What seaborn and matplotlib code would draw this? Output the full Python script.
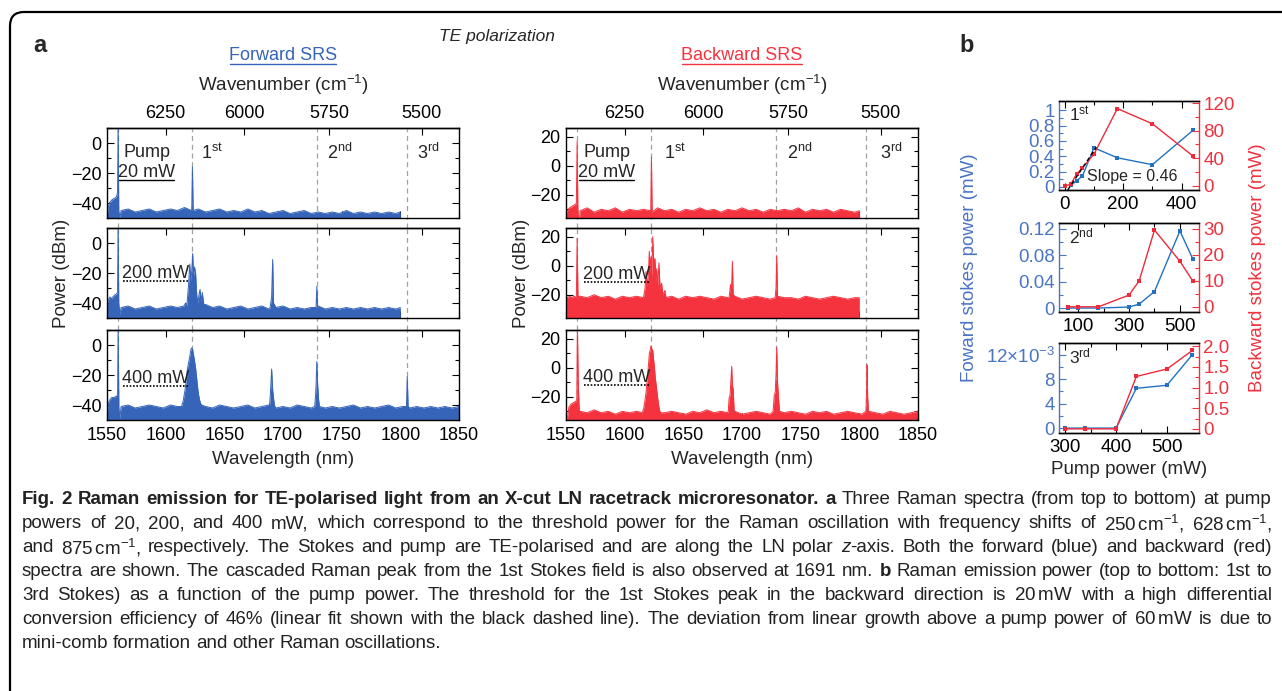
import numpy as np
import pandas as pd
import matplotlib
matplotlib.use("Agg")
import matplotlib.pyplot as plt
import matplotlib.transforms as mtrans
import seaborn as sns
from matplotlib import font_manager
from matplotlib.lines import Line2D
from matplotlib.patches import FancyBboxPatch
from matplotlib.ticker import MultipleLocator, FixedLocator, FixedFormatter

# ---------------- data ----------------
FLOOR_WL = [1562, 1568, 1574, 1580, 1586, 1592, 1598, 1604, 1610, 1616,
            1622, 1628, 1634, 1640, 1646, 1652, 1658, 1664, 1670, 1676,
            1682, 1688, 1694, 1700, 1706, 1712, 1718, 1724, 1730, 1736,
            1742, 1748, 1754, 1760, 1766, 1772, 1778, 1784, 1790, 1796,
            1802, 1808, 1814, 1820, 1826, 1832, 1838, 1844, 1850]

# forward spectra (dBm)
f20_floor = [-45, -44, -46, -45, -44, -46, -45, -44, -45, -43,
             -45, -44, -46, -45, -44, -46, -45, -46, -44, -46,
             -45, -47, -46, -45, -47, -46, -45, -47, -46, -47,
             -46, -47, -45, -47, -46, -47, -46, -47, -46, -47]
f20_peaks = [
    [(1550, -50), (1550.8, -44), (1552, -40), (1554, -38), (1556, -37), (1558, -36),
     (1559.0, -33), (1559.5, 15), (1560.0, -45), (1561, -50)],
    [(1622.2, -45), (1622.8, -16), (1623.4, -45)],
    [(1800, -46)],
]
f200_floor = [-43, -42, -44, -43, -42, -44, -43, -42, -43, -42,
              -43, -42, -41, -43, -42, -44, -43, -42, -44, -43,
              -42, -44, -43, -42, -44, -43, -44, -43, -42, -44,
              -43, -44, -43, -44, -43, -44, -43, -44, -43, -44]
f200_peaks = [
    [(1550, -44), (1551, -38), (1552.5, -36), (1554, -37), (1556, -35), (1558, -34),
     (1559.0, -33), (1559.5, 15), (1560.0, -40), (1561, -48)],
    [(1615.5, -42), (1617, -40), (1618, -42), (1619.5, -28), (1620.5, -14), (1621.5, -25),
     (1622.3, -18), (1623, -7), (1623.8, -22), (1624.6, -16), (1625.5, -20), (1626.5, -35),
     (1627.5, -40), (1628.5, -34), (1629.3, -31), (1630.2, -39), (1631.2, -33), (1632.5, -41)],
    [(1689, -43), (1690.3, -36), (1691.2, -11), (1691.9, -40)],
    [(1728.2, -43), (1728.8, -29), (1729.4, -43)],
    [(1800, -43)],
]
f400_floor = [-41, -40, -42, -41, -40, -41, -42, -40, -41, -41,
              -41, -40, -41, -42, -40, -41, -42, -41, -40, -42,
              -41, -40, -42, -41, -42, -40, -41, -42, -41, -42,
              -41, -42, -41, -40, -42, -41, -42, -41, -40, -42,
              -41, -42, -41, -42, -41, -42, -41, -42, -41]
f400_peaks = [
    [(1550, -49), (1550.8, -40), (1552, -37), (1554, -35), (1556, -35), (1558, -34),
     (1559.0, -35), (1559.5, 15), (1560.1, -42), (1561, -49)],
    [(1613.5, -41), (1615, -37), (1616.5, -30), (1617.5, -24), (1618.5, -16), (1619.5, -12),
     (1620.7, -7), (1621.5, -3), (1622.2, -2), (1623, -3), (1623.6, -6), (1624.5, -10),
     (1625.6, -16), (1626.4, -22), (1627, -27), (1628, -33), (1629.3, -38), (1630.5, -40)],
    [(1688.5, -41), (1689.3, -32), (1690.3, -16), (1691.2, -30), (1692.3, -38), (1693, -41)],
    [(1727, -41), (1727.8, -33), (1728.3, -24), (1728.8, -11), (1729.5, -26), (1730.3, -36), (1731, -41)],
    [(1805.2, -41), (1805.9, -21), (1806.6, -41)],
]

# backward spectra (dBm)
b20_floor = [-31, -29, -32, -30, -31, -29, -32, -30, -31, -30,
             -31, -29, -31, -30, -32, -30, -31, -29, -31, -30,
             -32, -30, -31, -29, -31, -30, -32, -30, -31, -30,
             -31, -29, -32, -30, -31, -30, -32, -30, -31, -32]
b20_peaks = [
    [(1550, -34), (1551, -31), (1553, -29), (1555, -28), (1557, -27), (1558.8, -26),
     (1559.5, 17), (1560.1, -30), (1560.6, -36), (1561.6, -36)],
    [(1622.2, -32), (1622.8, 6), (1623.4, -32)],
    [(1800, -31)],
]
b200_floor = [-21, -22, -20, -22, -21, -23, -21, -22, -21, -20,
              -22, -21, -22, -21, -23, -21, -22, -21, -22, -23,
              -21, -22, -21, -23, -22, -21, -22, -23, -21, -22,
              -22, -23, -21, -22, -23, -22, -21, -22, -23, -22]
b200_peaks = [
    [(1550, -21), (1551.5, -22), (1553, -21), (1555, -22), (1557, -21), (1558.8, -22),
     (1559.5, 19), (1560.2, -23), (1561, -21)],
    [(1616, -22), (1617.3, -16), (1618.2, -4), (1619.2, -14), (1620.2, -6), (1621, 10),
     (1621.7, -2), (1622.4, 6), (1623.2, -8), (1623.9, 20), (1624.8, 2), (1625.8, 5),
     (1626.6, -10), (1627.3, -2), (1628.2, -14), (1629.2, 2), (1630.2, -16), (1631.5, -12),
     (1632.5, -20), (1634.3, -17), (1635.2, -22)],
    [(1689, -22), (1690.2, -13), (1691, -18), (1691.8, 3), (1692.5, -20)],
    [(1728.3, -22), (1729, -15), (1729.6, 7), (1730.2, -21)],
    [(1800, -22)],
]
b400_floor = [-30, -31, -29, -31, -30, -32, -30, -31, -30, -29,
              -31, -30, -31, -30, -31, -32, -30, -31, -29, -31,
              -30, -31, -30, -32, -31, -30, -31, -32, -30, -31,
              -30, -31, -32, -30, -31, -30, -32, -31, -30, -31,
              -32, -30, -31, -32, -30, -31, -32, -31, -30]
b400_peaks = [
    [(1550, -36), (1551.4, -34), (1552.5, -27), (1554.3, -25), (1556.5, -24), (1558.5, -23),
     (1559.2, -22), (1559.7, 30), (1560.4, -9), (1561.2, -28), (1561.8, -31)],
    [(1615, -31), (1616.2, -28), (1617.2, -23), (1618.2, -17), (1619, -10), (1619.6, -4),
     (1620.3, 2), (1621, 9.7), (1621.7, 12), (1622.4, 15), (1623.1, 13), (1623.9, 12),
     (1624.6, 6), (1625.3, 1), (1626, -6), (1627, -13), (1628, -20), (1629, -26),
     (1629.6, -29), (1630.6, -31)],
    [(1688.3, -30), (1689, -21), (1689.8, -19), (1690.6, -8), (1691.2, 1), (1691.8, -12),
     (1692.5, -15), (1693.3, -30)],
    [(1726.5, -30), (1727.5, -19), (1728.3, -17), (1729, -5), (1729.6, 14), (1730.3, -10),
     (1731.2, -22), (1732, -30)],
    [(1805.6, -30), (1806.2, -15), (1806.6, 2), (1807.1, -20), (1807.8, -30)],
]

PUMP_NM = 1559.5
STOKES_SHIFTS = [250, 628, 875]          # cm^-1
WAVENUMBER_TICKS = [6250, 6000, 5750, 5500]
WAVELENGTH_TICKS = [1550, 1600, 1650, 1700, 1750, 1800, 1850]
PUMP_LABELS = ["20 mW", "200 mW", "400 mW"]
ORDER_LABELS = ["1$^{\\rm st}$", "2$^{\\rm nd}$", "3$^{\\rm rd}$"]

# panel b: Stokes power vs pump power (mW)
p1_fwd_x = [20, 40, 60, 100, 180, 300, 440]
p1_fwd_y = [0.02, 0.08, 0.14, 0.51, 0.38, 0.29, 0.74]
p1_bwd_x = [0, 20, 40, 60, 100, 180, 300, 440]
p1_bwd_y = [0, 2, 17, 26, 46, 112, 90, 43]
fit_x = [10, 108]
fit_y = [-6, 56]
p2_x = [60, 100, 180, 300, 340, 400, 500, 550]
p2_fwd_y = [0, 0, 0, 0.0015, 0.006, 0.025, 0.117, 0.075]
p2_bwd_y = [0, 0, 0, 4.5, 10, 29.5, 17.5, 10]
p3_x = [300, 340, 400, 440, 500, 550]
p3_fwd_y = [0, 0, 0, 0.0065, 0.0070, 0.0120]
p3_bwd_y = [0, 0, 0, 1.27, 1.45, 1.9]

CAPTION = [
    [("Fig. 2 Raman emission for TE-polarised light from an X-cut LN racetrack microresonator. a", "bold"),
     (" Three Raman spectra (from top to bottom) at pump", "normal")],
    [("powers of 20, 200, and 400 mW, which correspond to the threshold power for the Raman oscillation "
      "with frequency shifts of 250$\\,$cm$^{-1}$, 628$\\,$cm$^{-1}$,", "normal")],
    [("and 875$\\,$cm$^{-1}$, respectively. The Stokes and pump are TE-polarised and are along the LN polar ", "normal"),
     ("z", "italic"), ("-axis. Both the forward (blue) and backward (red)", "normal")],
    [("spectra are shown. The cascaded Raman peak from the 1st Stokes field is also observed at 1691 nm. ", "normal"),
     ("b", "bold"), (" Raman emission power (top to bottom: 1st to", "normal")],
    [("3rd Stokes) as a function of the pump power. The threshold for the 1st Stokes peak in the backward "
      "direction is 20$\\,$mW with a high differential", "normal")],
    [("conversion efficiency of 46% (linear fit shown with the black dashed line). The deviation from linear "
      "growth above a pump power of 60$\\,$mW is due to", "normal")],
    [("mini-comb formation and other Raman oscillations.", "normal")],
]

# ---------------- style ----------------
FWD = "#3564b8"
BWD = "#f5333f"
LINE_BLUE = "#2272c3"
LINE_RED = "#f02a3a"
TXT_BLUE = "#4a74c4"
TXT_RED = "#f0323e"
DASH = "#a0a0a0"

sns.set_theme(style="ticks")
names = {f.name for f in font_manager.fontManager.ttflist}
BASE = "Liberation Sans" if "Liberation Sans" in names else "DejaVu Sans"
NARROW = "Liberation Sans Narrow" if "Liberation Sans Narrow" in names else BASE
plt.rcParams["font.family"] = [BASE, "DejaVu Sans"]
plt.rcParams["mathtext.fontset"] = "custom"
plt.rcParams["mathtext.rm"] = BASE
plt.rcParams["mathtext.it"] = BASE + ":italic"
plt.rcParams["mathtext.bf"] = BASE + ":bold"
plt.rcParams["axes.edgecolor"] = "black"
plt.rcParams["axes.linewidth"] = 1.0
plt.rcParams["xtick.color"] = "black"
plt.rcParams["ytick.color"] = "black"

W, H = 1282, 691
fig = plt.figure(figsize=(W / 100, H / 100), dpi=100)
fig.patch.set_facecolor("white")
R = fig.canvas.get_renderer()
IDT = mtrans.IdentityTransform()

TICK = 13
LABEL = 13.5


def rect(x, y, w, h):
    return [x / W, 1 - (y + h) / H, w / W, h / H]


def ftext(x, y, s, **kw):
    return fig.text(x / W, 1 - y / H, s, **kw)


def underline(t, ls="-", lw=1.0, color="black", drop=1.0):
    bb = t.get_window_extent(renderer=R)
    fig.add_artist(Line2D([bb.x0 + 1, bb.x1 - 1], [bb.y0 + drop, bb.y0 + drop],
                          transform=IDT, color=color, lw=lw, ls=ls))


def spectrum(floor_vals, groups):
    pts = list(zip(FLOOR_WL, floor_vals))
    for g in groups:
        lo, hi = g[0][0], g[-1][0]
        pts = [p for p in pts if not (lo <= p[0] <= hi)]
        pts += g
    pts.sort()
    return pd.DataFrame(pts, columns=["wl", "dbm"])


def nm_to_k(x):
    x = np.asarray(x, dtype=float)
    with np.errstate(divide="ignore", invalid="ignore"):
        return 1e7 / x


stokes_nm = [PUMP_NM] + [1e7 / (1e7 / PUMP_NM - s) for s in STOKES_SHIFTS]

ROWS_Y = [128, 228, 330]
ROW_H = 90


def spectra_column(x0, spectra, color, ylim, ymajor, title, title_color, ann):
    axes = []
    for i, (floor, peaks) in enumerate(spectra):
        ax = fig.add_axes(rect(x0, ROWS_Y[i], 352, ROW_H))
        df = spectrum(floor, peaks)
        ax.fill_between(df["wl"], df["dbm"], ylim[0], color=color, lw=0, zorder=2)
        sns.lineplot(data=df, x="wl", y="dbm", ax=ax, color=color, lw=0.7,
                     estimator=None, sort=False, zorder=3)
        ax.set_xlim(1550, 1850)
        ax.set_ylim(*ylim)
        ax.set_xlabel("")
        ax.set_ylabel("")
        ax.set_xticks(WAVELENGTH_TICKS)
        ax.yaxis.set_major_locator(MultipleLocator(ymajor))
        ax.yaxis.set_minor_locator(MultipleLocator(10))
        ax.tick_params(axis="x", which="both", direction="in", top=False, bottom=True,
                       length=5, width=0.8, labelsize=TICK, labelbottom=(i == 2), pad=5)
        ax.tick_params(axis="y", which="major", direction="in", left=True, right=True,
                       length=5, width=0.8, labelsize=TICK, pad=4)
        ax.tick_params(axis="y", which="minor", direction="in", left=True, right=True,
                       length=3, width=0.8)
        sec = ax.secondary_xaxis("top", functions=(nm_to_k, nm_to_k))
        sec.set_xticks(WAVENUMBER_TICKS)
        sec.tick_params(direction="in", length=5, width=0.8, labelsize=TICK,
                        labeltop=(i == 0), pad=4)
        # dashed markers for pump / Stokes orders, bridging the gaps
        if i < 2:
            gap = ROWS_Y[i + 1] - (ROWS_Y[i] + ROW_H)
            lo = -gap / ROW_H
        else:
            lo = 0
        for wl in stokes_nm:
            ax.axvline(wl, ymin=lo, ymax=1, color=DASH, lw=0.9, ls=(0, (4, 3)),
                       clip_on=False, zorder=1)
        for sp in ax.spines.values():
            sp.set_zorder(5)
        axes.append(ax)

    # annotations
    a0 = axes[0]
    a0.text(ann["pump_x"], 0.733, "Pump", transform=a0.transAxes, ha="center", va="center",
            fontsize=TICK)
    t = a0.text(ann["pump_x"], 0.51, PUMP_LABELS[0], transform=a0.transAxes, ha="center",
                va="center", fontsize=TICK)
    underline(t, lw=1.0)
    for k, xf in enumerate(ann["order_x"]):
        a0.text(xf, 0.72, ORDER_LABELS[k], transform=a0.transAxes, ha="left", va="center",
                fontsize=TICK)
    for i in (1, 2):
        t = axes[i].text(ann["mw_x"], ann["mw_y"][i - 1], PUMP_LABELS[i],
                         transform=axes[i].transAxes, ha="left", va="center", fontsize=TICK)
        underline(t, ls=(0, (1, 1)), lw=1.2)
    axes[2].set_xlabel("Wavelength (nm)", fontsize=LABEL, labelpad=5)
    cx = x0 + 176
    t = ftext(cx, 56, title, ha="center", va="center", fontsize=13, color=title_color)
    fig.canvas.draw()
    underline(t, color=title_color, lw=1.0)
    ftext(cx, 85, "Wavenumber (cm$^{-1}$)", ha="center", va="center", fontsize=LABEL)
    ftext(x0 - 45, 273, "Power (dBm)", ha="center", va="center", rotation=90, fontsize=LABEL)
    return axes


spectra_column(107, [(f20_floor, f20_peaks), (f200_floor, f200_peaks), (f400_floor, f400_peaks)],
               FWD, (-50, 10), 20, "Forward SRS", FWD,
               dict(pump_x=0.113, order_x=[0.267, 0.624, 0.88], mw_x=0.042, mw_y=[0.5, 0.466]))
spectra_column(566, [(b20_floor, b20_peaks), (b200_floor, b200_peaks), (b400_floor, b400_peaks)],
               BWD, (-36, 26), 20, "Backward SRS", BWD,
               dict(pump_x=0.116, order_x=[0.279, 0.628, 0.892], mw_x=0.048, mw_y=[0.478, 0.47]))

# ---------------- panel b ----------------
BT = 13.5


def power_panel(y, h, fx, fy, rx, ry, xlim, yl, yr, xmaj, xmin, lt, ltl, lmin, rt, rtl, rmin,
                label, xlabel=False):
    ax = fig.add_axes(rect(1059, y, 140, h))
    ax2 = ax.twinx()
    sns.lineplot(x=fx, y=fy, ax=ax, color=LINE_BLUE, lw=1.0, marker="s", markersize=3,
                 markeredgewidth=0, estimator=None, sort=False)
    sns.lineplot(x=rx, y=ry, ax=ax2, color=LINE_RED, lw=1.0, marker="s", markersize=3,
                 markeredgewidth=0, estimator=None, sort=False)
    ax.set_xlim(*xlim)
    ax.set_ylim(*yl)
    ax2.set_ylim(*yr)
    for a in (ax, ax2):
        a.set_xlabel("")
        a.set_ylabel("")
    ax.xaxis.set_major_locator(FixedLocator(xmaj))
    ax.xaxis.set_minor_locator(FixedLocator(xmin))
    ax.yaxis.set_major_locator(FixedLocator(lt))
    ax.yaxis.set_major_formatter(FixedFormatter(ltl))
    ax.yaxis.set_minor_locator(FixedLocator(lmin))
    ax2.yaxis.set_major_locator(FixedLocator(rt))
    ax2.yaxis.set_major_formatter(FixedFormatter(rtl))
    ax2.yaxis.set_minor_locator(FixedLocator(rmin))
    ax.tick_params(axis="x", which="major", direction="in", top=True, bottom=True, length=5,
                   width=0.8, labelsize=BT, pad=4)
    ax.tick_params(axis="x", which="minor", direction="in", top=True, bottom=True, length=3,
                   width=0.8)
    ax.tick_params(axis="y", which="both", direction="in", colors=TXT_BLUE, labelsize=BT,
                   width=0.8, pad=3)
    ax.tick_params(axis="y", which="major", length=5)
    ax.tick_params(axis="y", which="minor", length=3)
    ax2.tick_params(axis="y", which="both", direction="in", colors=TXT_RED, labelsize=BT,
                    width=0.8, pad=3)
    ax2.tick_params(axis="y", which="major", length=5)
    ax2.tick_params(axis="y", which="minor", length=3)
    ax.spines["left"].set_color(TXT_BLUE)
    ax2.spines["left"].set_visible(False)
    ax2.spines["right"].set_color(TXT_RED)
    ax.spines["right"].set_visible(False)
    ax.text(0.07, 0.85, label, transform=ax.transAxes, ha="left", va="center", fontsize=12.5)
    if xlabel:
        ax.set_xlabel("Pump power (mW)", fontsize=LABEL, labelpad=4)
    return ax, ax2


bx1, bx1r = power_panel(101, 89, p1_fwd_x, p1_fwd_y, p1_bwd_x, p1_bwd_y, (-20, 460),
                        (-0.04, 1.12), (-6, 123), [0, 200, 400], [100, 300],
                        [0, 0.2, 0.4, 0.6, 0.8, 1.0], ["0", "0.2", "0.4", "0.6", "0.8", "1"],
                        [0.1, 0.3, 0.5, 0.7, 0.9], [0, 40, 80, 120], ["0", "40", "80", "120"],
                        [20, 60, 100], ORDER_LABELS[0])
sns.lineplot(x=fit_x, y=fit_y, ax=bx1r, color="black", lw=1.0, ls=(0, (3, 2)),
             estimator=None, sort=False)
bx1r.set_xlabel("")
bx1r.set_ylabel("")
bx1.text(0.52, 0.15, "Slope = 0.46", transform=bx1.transAxes, ha="center", va="center",
         fontsize=11.5)

power_panel(223, 89, p2_x, p2_fwd_y, p2_x, p2_bwd_y, (25, 575),
            (-0.006, 0.129), (-2, 32.2), [100, 300, 500], [200, 400],
            [0, 0.04, 0.08, 0.12], ["0", "0.04", "0.08", "0.12"], [0.02, 0.06, 0.10],
            [0, 10, 20, 30], ["0", "10", "20", "30"], [5, 15, 25], ORDER_LABELS[1])

power_panel(343, 90, p3_x, p3_fwd_y, p3_x, p3_bwd_y, (288, 563),
            (-0.0008, 0.0139), (-0.1, 2.08), [300, 400, 500], [350, 450],
            [0, 0.004, 0.008, 0.012], ["0", "4", "8", "12\u00d710$^{-3}$"], [0.002, 0.006, 0.010],
            [0, 0.5, 1.0, 1.5, 2.0], ["0", "0.5", "1.0", "1.5", "2.0"], [0.25, 0.75, 1.25, 1.75],
            ORDER_LABELS[2], xlabel=True)

ftext(969, 268, "Foward stokes power (mW)", rotation=90, ha="center", va="center",
      fontsize=LABEL, color=TXT_BLUE)
ftext(1258, 268, "Backward stokes power (mW)", rotation=90, ha="center", va="center",
      fontsize=LABEL, color=TXT_RED)

# ---------------- headings ----------------
ftext(40, 45, "a", fontsize=17, fontweight="bold", ha="center", va="center")
ftext(967, 45, "b", fontsize=17, fontweight="bold", ha="center", va="center")
ftext(497, 36, "TE polarization", fontsize=12.5, fontstyle="italic", ha="center", va="center")

# rounded frame running off the right and bottom edges
fig.add_artist(FancyBboxPatch((10, -60), 1400, H - 12 + 60,
                              boxstyle="round,pad=0,rounding_size=14", transform=IDT,
                              fill=False, ec="black", lw=1.6))

# ---------------- caption (justified) ----------------
CAP_X0, CAP_X1 = 22, 1272
CAP_Y = [500, 524, 548, 572, 596, 620, 643]


def cap_words(segs):
    words, pending = [], False
    for text, style in segs:
        parts = text.split(" ")
        for i, p in enumerate(parts):
            if i > 0:
                pending = True
            if p == "":
                continue
            words.append((p, style, pending and bool(words)))
            pending = False
    return words


def cap_props(style):
    kw = dict(family=[NARROW, BASE, "DejaVu Sans"], color="#222222", va="center", ha="left")
    if style == "bold":
        kw["fontweight"] = "bold"
    elif style == "italic":
        kw["fontstyle"] = "italic"
    return kw


def measure_line(words, size):
    objs, widths = [], []
    for w, st, _ in words:
        t = fig.text(0, 0, w, fontsize=size, **cap_props(st))
        widths.append(t.get_window_extent(renderer=R).width)
        objs.append(t)
    return objs, widths


lines = [cap_words(s) for s in CAPTION]
probe = 12.0
natural = []
for words in lines:
    objs, widths = measure_line(words, probe)
    gaps = sum(1 for w in words if w[2])
    natural.append(sum(widths) + gaps * probe * 100 / 72 * 0.25)
    for o in objs:
        o.remove()
cap_size = min(13.5, probe * (CAP_X1 - CAP_X0) / max(natural[:-1]) * 0.985)
space = cap_size * 100 / 72 * 0.25

for li, words in enumerate(lines):
    objs, widths = measure_line(words, cap_size)
    gaps = sum(1 for w in words if w[2])
    if li < len(lines) - 1 and gaps:
        gap_w = (CAP_X1 - CAP_X0 - sum(widths)) / gaps
    else:
        gap_w = space
    x = CAP_X0
    for (w, st, sp), o, wd in zip(words, objs, widths):
        if sp:
            x += gap_w
        o.set_position((x / W, 1 - CAP_Y[li] / H))
        x += wd

fig.savefig("out.png", dpi=100, facecolor="white")
